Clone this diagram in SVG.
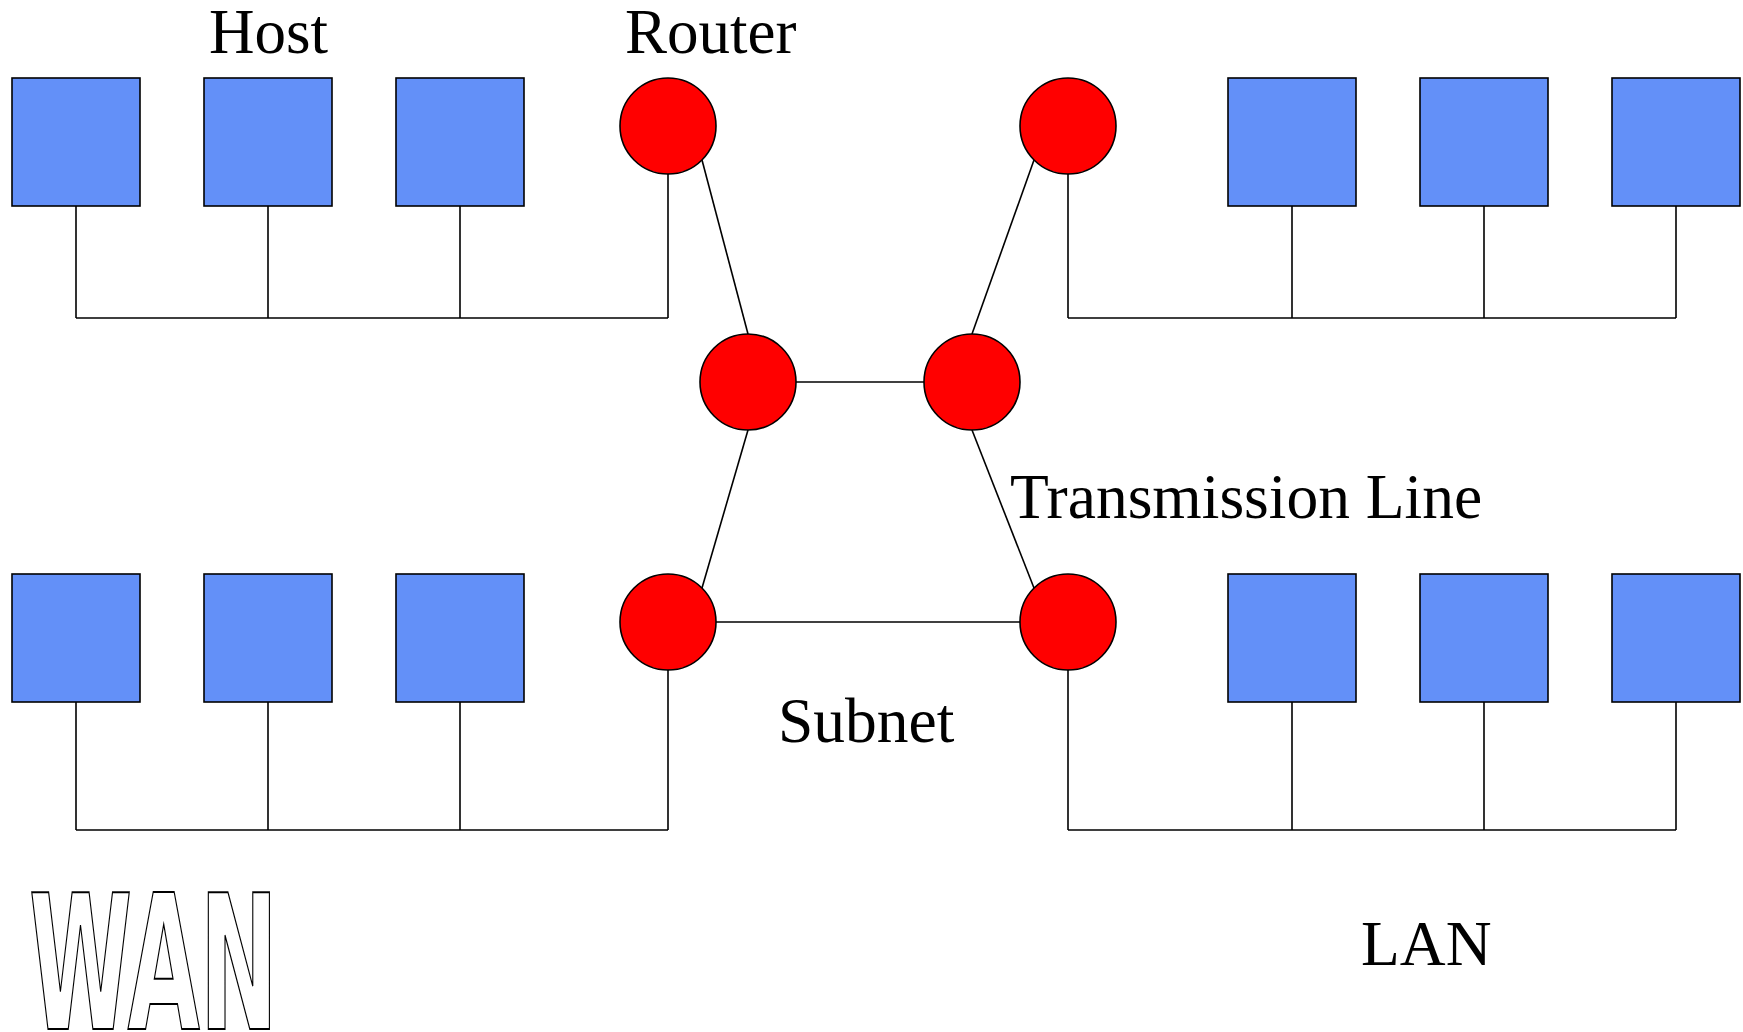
<svg xmlns="http://www.w3.org/2000/svg" width="1743" height="1032" viewBox="0 0 1743 1032">
  <style>
    .host { fill: #6390F8; stroke: #000; stroke-width: 1.6; }
    .router { fill: #FF0000; stroke: #000; stroke-width: 1.6; }
    .wire { fill: none; stroke: #000; stroke-width: 1.6; }
    .label { font-family: "Liberation Serif", "Times New Roman", serif; font-size: 63.5px; fill: #000; }
    .top { font-size: 63px; }
    .outline { font-family: "DejaVu Sans Condensed", "DejaVu Sans", sans-serif; font-weight: bold; font-size: 187px; fill: #fff; stroke: #000; stroke-width: 2; }
  </style>
  <rect width="1743" height="1032" fill="#fff"/>

  <!-- cabling: LAN buses and subnet transmission lines -->
  <g id="connectors" class="wire">
    <!-- top-left LAN -->
    <path d="M76 206 V318 M268 206 V318 M460 206 V318 M668 174 V318 M76 318 H668"/>
    <!-- top-right LAN -->
    <path d="M1068 174 V318 M1292 206 V318 M1484 206 V318 M1676 206 V318 M1068 318 H1676"/>
    <!-- bottom-left LAN -->
    <path d="M76 702 V830 M268 702 V830 M460 702 V830 M668 670 V830 M76 830 H668"/>
    <!-- bottom-right LAN -->
    <path d="M1068 670 V830 M1292 702 V830 M1484 702 V830 M1676 702 V830 M1068 830 H1676"/>
    <!-- subnet links between routers -->
    <line x1="702" y1="160" x2="748" y2="334"/>
    <line x1="1034" y1="160" x2="972" y2="334"/>
    <line x1="796" y1="382" x2="924" y2="382"/>
    <line x1="748" y1="430" x2="702" y2="588"/>
    <line x1="972" y1="430" x2="1034" y2="588"/>
    <line x1="716" y1="622" x2="1020" y2="622"/>
  </g>

  <!-- hosts -->
  <g id="host-tl-1"><rect class="host" x="12" y="78" width="128" height="128"/></g>
  <g id="host-tl-2"><rect class="host" x="204" y="78" width="128" height="128"/></g>
  <g id="host-tl-3"><rect class="host" x="396" y="78" width="128" height="128"/></g>
  <g id="host-tr-1"><rect class="host" x="1228" y="78" width="128" height="128"/></g>
  <g id="host-tr-2"><rect class="host" x="1420" y="78" width="128" height="128"/></g>
  <g id="host-tr-3"><rect class="host" x="1612" y="78" width="128" height="128"/></g>
  <g id="host-bl-1"><rect class="host" x="12" y="574" width="128" height="128"/></g>
  <g id="host-bl-2"><rect class="host" x="204" y="574" width="128" height="128"/></g>
  <g id="host-bl-3"><rect class="host" x="396" y="574" width="128" height="128"/></g>
  <g id="host-br-1"><rect class="host" x="1228" y="574" width="128" height="128"/></g>
  <g id="host-br-2"><rect class="host" x="1420" y="574" width="128" height="128"/></g>
  <g id="host-br-3"><rect class="host" x="1612" y="574" width="128" height="128"/></g>

  <!-- routers -->
  <g id="router-tl"><circle class="router" cx="668" cy="126" r="48"/></g>
  <g id="router-tr"><circle class="router" cx="1068" cy="126" r="48"/></g>
  <g id="router-ml"><circle class="router" cx="748" cy="382" r="48"/></g>
  <g id="router-mr"><circle class="router" cx="972" cy="382" r="48"/></g>
  <g id="router-bl"><circle class="router" cx="668" cy="622" r="48"/></g>
  <g id="router-br"><circle class="router" cx="1068" cy="622" r="48"/></g>

  <!-- labels -->
  <g id="labels">
    <text class="label top" x="209" y="53">Host</text>
    <text class="label top" x="625" y="53">Router</text>
    <text class="label" x="1010" y="518">Transmission Line</text>
    <text class="label" x="778" y="742">Subnet</text>
    <text class="label" x="1361" y="965">LAN</text>
    <text class="outline" x="29" y="1029" textLength="249" lengthAdjust="spacingAndGlyphs">WAN</text>
  </g>
</svg>
